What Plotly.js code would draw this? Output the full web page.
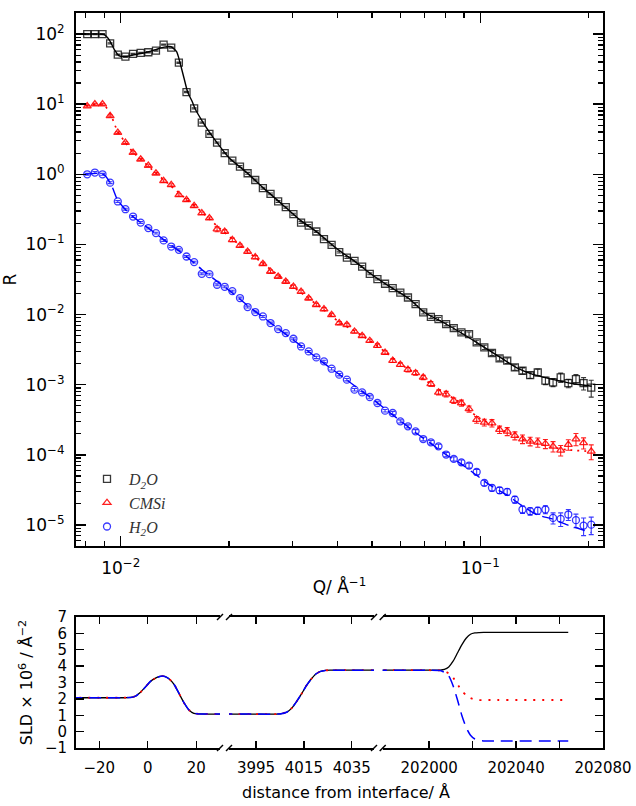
<!DOCTYPE html>
<html><head><meta charset="utf-8">
<script src="https://cdn.plot.ly/plotly-3.0.1.min.js"></script>
<style>body{margin:0;padding:0;background:#fff}#chart{width:636px;height:806px}</style>
</head><body><div id="chart"></div>
<script>
// ---------- Reflectivity data ----------
const Q = [0.00807,0.008474,0.008899,0.009345,0.009813,0.010305,0.010821,0.011363,0.011933,0.012531,
0.013159,0.013818,0.014511,0.015238,0.016002,0.016804,0.017646,0.018530,0.019458,0.020433,
0.021457,0.022533,0.023662,0.024847,0.026092,0.027399,0.028772,0.030214,0.031728,0.033318,
0.034987,0.036740,0.038581,0.040514,0.042544,0.044676,0.046914,0.049265,0.051733,0.054325,
0.057047,0.059906,0.062907,0.066059,0.069369,0.072845,0.076495,0.080328,0.084353,0.088580,
0.093018,0.097679,0.102573,0.107713,0.113110,0.118777,0.124729,0.130978,0.137541,0.144433,
0.151670,0.159269,0.167250,0.175630,0.184430,0.193671,0.203375];

const R_D2O = [100,100,100,73.6,51,47.5,52,54,55,58,
70.5,64,39,14.9,8.7,5.46,3.76,2.83,2.0,1.57,
1.29,1.035,0.83,0.634,0.526,0.41,0.34,0.27,0.205,0.186,
0.153,0.119,0.0988,0.0777,0.065,0.0583,0.0484,0.0381,0.032,0.0275,
0.0238,0.0206,0.0175,0.0141,0.01074,0.0093,0.00863,0.00733,0.00642,0.00557,
0.00527,0.00402,0.00341,0.00283,0.00238,0.0022,0.00177,0.00158,0.00137,0.0015,
0.00114,0.00108,0.00127,0.00105,0.0012,0.00105,0.00091];
const relErr_D2O = [0.02,0.02,0.02,0.02,0.02,0.02,0.02,0.02,0.02,0.02,
0.02,0.02,0.02,0.02,0.02,0.02,0.02,0.02,0.02,0.02,
0.03,0.03,0.03,0.03,0.03,0.03,0.03,0.03,0.03,0.03,
0.03,0.03,0.03,0.03,0.03,0.03,0.03,0.03,0.03,0.03,
0.04,0.04,0.04,0.05,0.05,0.05,0.05,0.06,0.06,0.06,
0.07,0.07,0.07,0.08,0.08,0.09,0.09,0.10,0.10,0.11,
0.12,0.13,0.15,0.14,0.16,0.20,0.27];

const R_CMSi = [9.4,10,10,6.8,3.93,2.83,2.04,1.64,1.33,1.035,
0.805,0.706,0.509,0.432,0.355,0.279,0.237,0.165,0.153,0.116,
0.0964,0.0792,0.0659,0.053,0.0411,0.0349,0.0296,0.0251,0.0213,0.0171,
0.0138,0.01197,0.00993,0.00757,0.00716,0.00574,0.00499,0.00424,0.0036,0.00288,
0.0022,0.00193,0.00164,0.00147,0.00127,0.00103,0.000778,0.000736,0.000592,0.000548,
0.000451,0.000317,0.00029,0.000284,0.000229,0.000216,0.000188,0.000168,0.000156,0.000151,
0.000144,0.000132,0.000116,0.00014,0.000168,0.000148,0.000112];
const relErr_CMSi = [0.03,0.03,0.03,0.03,0.03,0.03,0.03,0.03,0.03,0.03,
0.04,0.04,0.04,0.04,0.04,0.04,0.04,0.08,0.06,0.06,
0.05,0.05,0.05,0.05,0.05,0.05,0.05,0.05,0.05,0.05,
0.05,0.05,0.05,0.05,0.05,0.05,0.05,0.05,0.06,0.06,
0.06,0.06,0.07,0.07,0.07,0.08,0.08,0.09,0.09,0.10,
0.10,0.11,0.11,0.12,0.12,0.13,0.13,0.14,0.14,0.15,
0.15,0.17,0.17,0.17,0.20,0.18,0.24];

const R_H2O = [1.0,1.06,1.0,0.76,0.41,0.318,0.25,0.205,0.171,0.145,
0.114,0.0933,0.0838,0.0673,0.056,0.0381,0.0377,0.0266,0.0249,0.0216,
0.0172,0.0128,0.01086,0.0094,0.00757,0.00621,0.00544,0.00452,0.00351,0.00298,
0.00245,0.00215,0.00169,0.00139,0.00118,0.000849,0.000777,0.000668,0.000548,0.000426,
0.000395,0.0003,0.000255,0.000216,0.000168,0.000151,0.000132,0.000101,0.0000875,0.0000782,
0.0000702,0.000057,0.0000398,0.0000338,0.0000312,0.0000296,0.000023,0.0000166,0.0000157,0.000016,
0.0000166,0.0000126,0.0000122,0.0000141,0.0000117,0.0000098,0.0000101];
const relErr_H2O = [0.03,0.03,0.03,0.03,0.03,0.03,0.03,0.03,0.03,0.03,
0.03,0.03,0.03,0.03,0.03,0.03,0.03,0.03,0.03,0.03,
0.03,0.03,0.03,0.03,0.03,0.03,0.03,0.03,0.03,0.03,
0.04,0.04,0.04,0.04,0.04,0.04,0.04,0.04,0.04,0.04,
0.05,0.05,0.05,0.06,0.06,0.06,0.07,0.07,0.07,0.08,
0.08,0.09,0.09,0.10,0.10,0.11,0.11,0.12,0.12,0.12,
0.13,0.18,0.22,0.18,0.22,0.28,0.28];

// ---------- Fit curves ----------
const fitQ_D2O = [0.0080,0.0086,0.0090,0.0093,0.0096,0.0099,0.0103,0.0110,0.0118,0.0125,
0.0132,0.0138,0.0143,0.0146,0.0150,0.01535,0.0158,0.0161,0.0169,0.0177,
0.0185,0.0200,0.0225,0.0250,0.0280,0.0316,0.0350,0.0400,0.0450,0.0500,
0.0560,0.0630,0.0700,0.0800,0.0900,0.1000,0.1130,0.1260,0.1400,0.1600,0.1800,0.2040];
const fitR_D2O = [100,100,98,82,60,49,48,51,55,60,
65,66,56,40,23.4,14.9,10.9,8.6,5.6,3.9,
2.85,1.72,1.04,0.63,0.38,0.22,0.152,0.086,0.056,0.037,
0.025,0.0172,0.0107,0.0074,0.0052,0.0037,0.0025,0.00175,0.0014,0.00118,0.00104,0.00095];

const fitQ_CMSi = [0.0080,0.0086,0.0090,0.0094,0.0098,0.0103,0.0108,0.0114,0.0125,0.0138,
0.0152,0.0168,0.0185,0.0204,0.0225,0.0248,0.0273,0.0301,0.0332,0.0366,
0.0404,0.0445,0.0491,0.0541,0.0597,0.0658,0.0725,0.0800,0.0882,0.0972,
0.1072,0.1182,0.1303,0.1437,0.1584,0.1747,0.2034];
const fitR_CMSi = [9.5,10,9.7,6.9,4.1,2.85,2.08,1.62,1.05,0.68,
0.445,0.29,0.185,0.12,0.08,0.054,0.037,0.025,0.0172,0.0118,
0.0079,0.0059,0.0043,0.0030,0.0020,0.00145,0.00104,0.00075,0.00055,0.00036,
0.00027,0.00021,0.000168,0.000145,0.000128,0.000118,0.000112];

const fitQ_H2O = [0.0080,0.0086,0.0090,0.0094,0.0098,0.0103,0.0108,0.0114,0.0125,0.0138,
0.0152,0.0168,0.0185,0.0204,0.0225,0.0248,0.0273,0.0301,0.0332,0.0366,
0.0404,0.0445,0.0491,0.0541,0.0597,0.0658,0.0725,0.0800,0.0882,0.0972,
0.1072,0.1182,0.1303,0.1437,0.1584,0.1747,0.2034];
const fitR_H2O = [1.0,1.03,0.98,0.72,0.43,0.315,0.25,0.203,0.143,0.098,
0.068,0.044,0.030,0.0205,0.0135,0.0093,0.0064,0.0044,0.0030,0.00205,
0.00142,0.00098,0.00068,0.00046,0.00031,0.00021,0.000148,0.000102,0.000075,0.000052,
0.000036,0.000027,0.000019,0.000014,0.0000122,0.0000100,0.0000078];

// ---------- SLD profiles ----------
const sld1X = [-32,-20,-10,-7,-5,-3,-1,1,3,5,6,7,9,11,13,15,17,19,21,25,32];
const sld1Y = [2.07,2.07,2.07,2.09,2.17,2.4,2.72,3.05,3.25,3.37,3.39,3.37,3.2,2.85,2.3,1.75,1.32,1.12,1.08,1.07,1.07];
const sld2X = [3980,3995,4005,4008,4010,4012,4014,4016,4018,4020,4022,4024,4026,4035,4048];
const sld2Y = [1.07,1.07,1.08,1.2,1.45,1.85,2.3,2.8,3.2,3.52,3.68,3.74,3.75,3.75,3.75];
const sld3X = [201975,202000,202005,202007,202009,202011,202013,202015,202017,202019,202021,202023,202025,202030,202064];
const sld3_D2O = [3.75,3.75,3.76,3.80,3.95,4.3,4.8,5.3,5.7,5.95,6.03,6.05,6.06,6.06,6.06];
const sld3_CMSi = [3.75,3.75,3.74,3.70,3.55,3.3,2.9,2.5,2.22,2.05,1.96,1.93,1.93,1.93,1.93];
const sld3_H2O = [3.75,3.75,3.73,3.62,3.4,2.8,1.95,1.0,0.25,-0.22,-0.45,-0.54,-0.57,-0.57,-0.57];

// ---------- Labels ----------
const names = ['<i>D<sub>2</sub>O</i>','<i>CMSi</i>','<i>H<sub>2</sub>O</i>'];
const qTickVals = [0.01,0.1];
const qTickText = ['10<sup>−2</sup>','10<sup>−1</sup>'];
const rTickVals = [1e-5,1e-4,1e-3,1e-2,1e-1,1,10,100];
const rTickText = ['10<sup>−5</sup>','10<sup>−4</sup>','10<sup>−3</sup>','10<sup>−2</sup>','10<sup>−1</sup>','10<sup>0</sup>','10<sup>1</sup>','10<sup>2</sup>'];
const seg1Ticks = [-20,0,20], seg1Text = ['−20','0','20'];
const seg2Ticks = [3995,4015,4035], seg2Text = ['3995','4015','4035'];
const seg3Ticks = [202000,202020,202040,202060,202080], seg3Text = ['202000','','202040','','202080'];
const sldTicks = [-1,0,1,2,3,4,5,6,7], sldText = ['−1','0','1','2','3','4','5','6','7'];

// minor tick positions
const qMinor = [], rMinor = [];
for (let e=-3;e<=0;e++) for (let d=2;d<=9;d++){const v=d*Math.pow(10,e); if(v>0.0075&&v<0.22) qMinor.push(v);}
for (let e=-6;e<=2;e++) for (let d=2;d<=9;d++){const v=d*Math.pow(10,e); if(v>5.1e-6&&v<199) rMinor.push(v);}

const cK='rgba(0,0,0,0.78)', cR='rgba(255,0,0,0.88)', cB='rgba(0,0,255,0.78)';
const abs = (r,e)=>r.map((v,i)=>v*e[i]);

const traces = [
 {x:fitQ_D2O,y:fitR_D2O,mode:'lines',line:{color:'#000',width:1.4,shape:'spline',smoothing:0.6},showlegend:false,xaxis:'x',yaxis:'y'},
 {x:fitQ_CMSi,y:fitR_CMSi,mode:'lines',line:{color:'#ff0000',width:1.7,dash:'2px,5px',shape:'spline',smoothing:0.6},showlegend:false,xaxis:'x',yaxis:'y'},
 {x:fitQ_H2O,y:fitR_H2O,mode:'lines',line:{color:'#0000ff',width:1.4,dash:'11px,6px',shape:'spline',smoothing:0.6},showlegend:false,xaxis:'x',yaxis:'y'},
 {x:Q,y:R_D2O,name:names[0],mode:'markers',marker:{symbol:'square-open',size:7,color:cK,line:{width:1.3,color:cK}},
  error_y:{type:'data',array:abs(R_D2O,relErr_D2O),visible:true,color:cK,thickness:1.1,width:2.5},xaxis:'x',yaxis:'y'},
 {x:Q,y:R_CMSi,name:names[1],mode:'markers',marker:{symbol:'triangle-up-open',size:7,color:cR,line:{width:1.3,color:cR}},
  error_y:{type:'data',array:abs(R_CMSi,relErr_CMSi),visible:true,color:cR,thickness:1.1,width:2.5},xaxis:'x',yaxis:'y'},
 {x:Q,y:R_H2O,name:names[2],mode:'markers',marker:{symbol:'circle-open',size:7,color:cB,line:{width:1.3,color:cB}},
  error_y:{type:'data',array:abs(R_H2O,relErr_H2O),visible:true,color:cB,thickness:1.1,width:2.5},xaxis:'x',yaxis:'y'}
];

const sldStyle = [
 {color:'#000',width:1.3},
 {color:'#ff0000',width:1.8,dash:'2px,7px'},
 {color:'#0000ff',width:1.5,dash:'12px,7px'}
];
[[sld1X,sld1Y,'x2','y2'],[sld2X,sld2Y,'x3','y2']].forEach(s=>{
  for(let k=0;k<3;k++) traces.push({x:s[0],y:s[1],mode:'lines',line:Object.assign({shape:'spline',smoothing:0.5},sldStyle[k]),showlegend:false,xaxis:s[2],yaxis:s[3]});
});
[sld3_D2O,sld3_CMSi,sld3_H2O].forEach((yv,k)=>{
  traces.push({x:sld3X,y:yv,mode:'lines',line:Object.assign({shape:'spline',smoothing:0.5},sldStyle[k]),showlegend:false,xaxis:'x4',yaxis:'y3'});
});

// geometry helpers (plot area: x 76..603, y 13..748)
const L=76,Rr=33,T=13,B=58,W=636,H=806,PW=W-L-Rr,PH=H-T-B;
const px=(x)=>(x-L)/PW, py=(y)=>(H-B-y)/PH;

const common = {showline:true,linewidth:2,linecolor:'#000',ticks:'inside',tickcolor:'#000',tickwidth:1.4,showgrid:false,zeroline:false};
const tf17={family:'DejaVu Sans, sans-serif',size:17,color:'#000'};
const tf15={family:'DejaVu Sans, sans-serif',size:15,color:'#000'};

const layout = {
 width:W,height:H,margin:{l:L,r:Rr,t:T,b:B},paper_bgcolor:'#fff',plot_bgcolor:'rgba(0,0,0,0)',
 font:{family:'DejaVu Sans, sans-serif',color:'#000'},
 showlegend:true,
 legend:{x:px(85),y:py(462),xanchor:'left',yanchor:'top',bgcolor:'rgba(0,0,0,0)',font:{family:'Liberation Serif, DejaVu Serif, serif',size:16,color:'#333'},tracegroupgap:0,itemwidth:34},
 xaxis:Object.assign({},common,{type:'log',domain:[0,1],anchor:'y',range:[Math.log10(0.00751),Math.log10(0.2193)],
   tickmode:'array',tickvals:qTickVals,ticktext:qTickText,ticklen:10,mirror:'allticks',tickfont:tf17,ticklabelstandoff:6,
   minor:{tickmode:'array',tickvals:qMinor,ticks:'inside',ticklen:5,tickwidth:1.2,tickcolor:'#000',showgrid:false},
   title:{text:'Q/ Å<sup>−1</sup>',font:tf17,standoff:4}}),
 yaxis:Object.assign({},common,{type:'log',domain:[py(546),1],anchor:'x',range:[-5.3,2.3],
   tickmode:'array',tickvals:rTickVals,ticktext:rTickText,ticklen:10,mirror:'allticks',tickfont:tf17,ticklabelstandoff:6,
   minor:{tickmode:'array',tickvals:rMinor,ticks:'inside',ticklen:5,tickwidth:1.2,tickcolor:'#000',showgrid:false},
   title:{text:'R',font:tf17,standoff:6}}),
 xaxis2:Object.assign({},common,{domain:[0,px(220)],anchor:'y2',range:[-29.6,29.8],tickmode:'array',tickvals:seg1Ticks,ticktext:seg1Text,ticklen:7,mirror:'ticks',tickfont:tf15,ticklabelstandoff:5}),
 xaxis3:Object.assign({},common,{domain:[px(229),px(374)],anchor:'y2',range:[3983.7,4044.3],tickmode:'array',tickvals:seg2Ticks,ticktext:seg2Text,ticklen:7,mirror:'ticks',tickfont:tf15,ticklabelstandoff:5}),
 xaxis4:Object.assign({},common,{domain:[px(382.7),1],anchor:'y3',range:[201978.6,202080],tickmode:'array',tickvals:seg3Ticks,ticktext:seg3Text,ticklen:7,mirror:'ticks',tickfont:tf15,ticklabelstandoff:5}),
 yaxis2:Object.assign({},common,{domain:[0,py(617)],anchor:'x2',side:'left',range:[-1,7],tickmode:'array',tickvals:sldTicks,ticktext:sldText,ticklen:8,tickfont:tf15,ticklabelstandoff:4,
   title:{text:'SLD × 10<sup>6</sup> / Å<sup>−2</sup>',font:{family:'DejaVu Sans, sans-serif',size:16,color:'#000'},standoff:8}}),
 yaxis3:Object.assign({},common,{domain:[0,py(617)],anchor:'x4',side:'right',range:[-1,7],tickmode:'array',tickvals:sldTicks,ticktext:sldText,ticklen:8,showticklabels:false}),
 annotations:[{xref:'paper',yref:'paper',x:px(346),y:py(792),xanchor:'center',yanchor:'middle',showarrow:false,
   text:'distance from interface/ Å',font:{family:'DejaVu Sans, sans-serif',size:16,color:'#000'}}],
 shapes:[]
};
[220,229,374,382.7].forEach(xp=>{
  [617,748].forEach(yp=>{
    layout.shapes.push({type:'line',xref:'paper',yref:'paper',x0:px(xp-3),y0:py(yp+3),x1:px(xp+3),y1:py(yp-3),line:{color:'#000',width:1.5}});
  });
});

Plotly.newPlot('chart',traces,layout,{staticPlot:true,displayModeBar:false});
</script></body></html>
